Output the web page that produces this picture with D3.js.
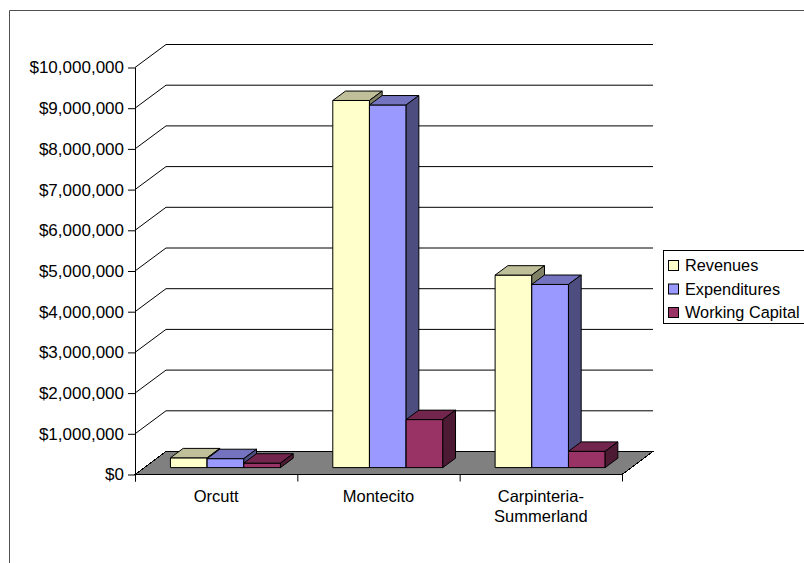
<!DOCTYPE html>
<html>
<head>
<meta charset="utf-8">
<script src="https://cdn.jsdelivr.net/npm/d3@7"></script>
<style>
  html, body { margin: 0; padding: 0; background: #fff; }
  svg { display: block; }
  text { font-family: "Liberation Sans", Arial, sans-serif; fill: #000; }
</style>
</head>
<body>
<svg id="chart" width="804" height="563"></svg>
<script>
// Fund summary by district
const categories = ["Orcutt", "Montecito", "Carpinteria-Summerland"];
const categoryLines = [["Orcutt"], ["Montecito"], ["Carpinteria-", "Summerland"]];
const seriesNames = ["Revenues", "Expenditures", "Working Capital"];
const revenues = [240000, 9020000, 4730000];
const expenditures = [220000, 8910000, 4500000];
const workingCapital = [110000, 1180000, 400000];
const tickValues = [0, 1000000, 2000000, 3000000, 4000000, 5000000, 6000000, 7000000, 8000000, 9000000, 10000000];
const seriesColors = ["#FFFFCC", "#9999FF", "#993366"];

const seriesValues = [revenues, expenditures, workingCapital];

const svg = d3.select("#chart");

// outer frame
svg.append("path")
  .attr("d", "M9.5,563V10.5H804")
  .attr("fill", "none")
  .attr("stroke", "#505050")
  .attr("stroke-width", 1);

// plot geometry (front plane of the 3D box)
const plotLeft = 135, plotRight = 622;
const DX = 31, DY = -23;           // depth offset of back wall
const barD0 = 0.30, barD1 = 0.71;  // depth range occupied by columns

const y = d3.scaleLinear().domain([0, 10000000]).range([474.5, 67.5]);
const x = d3.scaleBand().domain(categories).range([plotLeft, plotRight]);
const xs = d3.scaleBand().domain(seriesNames).range([0, x.bandwidth()])
  .paddingInner(0).paddingOuter(0.713);

const proj = (px, v, d) => [px + d * DX, y(v) + d * DY];
const poly = pts => "M" + pts.map(p => p[0] + "," + p[1]).join("L") + "Z";

// floor
svg.append("path")
  .attr("d", poly([proj(plotLeft, 0, 0), proj(plotLeft, 0, 1), proj(plotRight, 0, 1), proj(plotRight, 0, 0)]))
  .attr("fill", "#808080")
  .attr("stroke", "#000")
  .attr("stroke-width", 1)
  .attr("shape-rendering", "crispEdges");

// gridlines on side and back wall
const grid = svg.append("g").attr("fill", "none").attr("stroke", "#000").attr("stroke-width", 1);
tickValues.filter(t => t > 0).forEach(t => {
  const a = proj(plotLeft, t, 0), b = proj(plotLeft, t, 1), c = proj(plotRight, t, 1);
  grid.append("path").attr("d", `M${a[0]},${a[1]}L${b[0]},${b[1]}L${c[0]},${c[1]}`);
});

// value axis
const fmt = d3.format("$,.0f");
const yAxis = d3.axisLeft(y).tickValues(tickValues).tickFormat(fmt).tickSize(7).tickSizeOuter(0);
const gy = svg.append("g").attr("transform", `translate(${plotLeft},0)`).call(yAxis);
gy.select(".domain").remove();
gy.selectAll(".tick line").attr("stroke", "#000");
gy.selectAll(".tick text")
  .attr("x", -11)
  .attr("font-size", "17px")
  .attr("font-family", '"Liberation Sans", Arial, sans-serif')
  .attr("fill", "#000");
svg.append("line")
  .attr("x1", plotLeft + 0.5).attr("x2", plotLeft + 0.5)
  .attr("y1", y(10000000)).attr("y2", y(0) + 7)
  .attr("stroke", "#000");

// category axis
svg.append("line")
  .attr("x1", plotLeft).attr("x2", plotRight)
  .attr("y1", y(0)).attr("y2", y(0))
  .attr("stroke", "#000");
const bounds = categories.map(c => x(c)).concat([plotRight]);
bounds.forEach(bx => {
  svg.append("line")
    .attr("x1", bx + 0.5).attr("x2", bx + 0.5)
    .attr("y1", y(0)).attr("y2", y(0) + 7)
    .attr("stroke", "#000");
});
categories.forEach((c, i) => {
  const t = svg.append("text")
    .attr("text-anchor", "middle")
    .attr("font-size", "16.5px")
    .attr("x", x(c) + x.bandwidth() / 2)
    .attr("y", 502);
  categoryLines[i].forEach((ln, j) => {
    t.append("tspan").attr("x", x(c) + x.bandwidth() / 2).attr("dy", j === 0 ? 0 : 20).text(ln);
  });
});

// columns
const shade = (col, k) => {
  const c = d3.rgb(col);
  return d3.rgb(c.r * k, c.g * k, c.b * k).formatHex();
};
const bars = svg.append("g").attr("stroke", "#000").attr("stroke-width", 1).attr("stroke-linejoin", "miter");
categories.forEach((c, i) => {
  seriesNames.forEach((s, k) => {
    const v = seriesValues[k][i];
    const x0 = x(c) + xs(s), x1 = x0 + xs.bandwidth();
    const f0 = proj(x0, 0, barD0), f1 = proj(x1, 0, barD0), f2 = proj(x1, v, barD0), f3 = proj(x0, v, barD0);
    const b1 = proj(x1, 0, barD1), b2 = proj(x1, v, barD1), b3 = proj(x0, v, barD1);
    const col = seriesColors[k];
    bars.append("path").attr("d", poly([f0, f1, f2, f3])).attr("fill", col);
    bars.append("path").attr("d", poly([f3, f2, b2, b3])).attr("fill", shade(col, 0.75));
    bars.append("path").attr("d", poly([f1, b1, b2, f2])).attr("fill", shade(col, 0.5));
  });
});

// legend
const lg = svg.append("g");
lg.append("rect")
  .attr("x", 663.5).attr("y", 250.5)
  .attr("width", 160).attr("height", 73)
  .attr("fill", "#fff").attr("stroke", "#000");
seriesNames.forEach((s, k) => {
  const cy = 266 + k * 23.5;
  lg.append("rect")
    .attr("x", 668.5).attr("y", cy - 5.5)
    .attr("width", 10).attr("height", 10)
    .attr("fill", seriesColors[k]).attr("stroke", "#000");
  lg.append("text")
    .attr("x", 685).attr("y", cy + 5)
    .attr("font-size", "16.3px")
    .text(s);
});
</script>
</body>
</html>
